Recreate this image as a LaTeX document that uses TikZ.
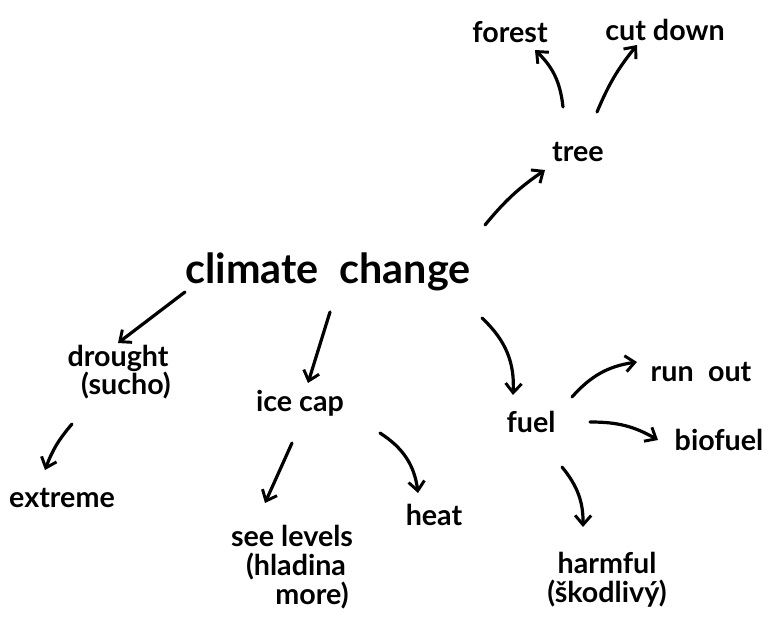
\documentclass[tikz,border=0pt]{standalone}
\usepackage{fontspec}
\setmainfont{Lato}
\usetikzlibrary{arrows.meta,calc}
\tikzset{
  lbl/.style={font=\fontsize{21.5}{21.5}\selectfont\bfseries, inner sep=0pt, align=center},
  big/.style={font=\fontsize{31}{36}\selectfont\bfseries, inner sep=0pt},
  arr/.style={line width=2.4pt, line cap=round, line join=round,
    -{Straight Barb[length=7pt,width=12pt,line width=2.2pt]}},
}
\begin{document}
\begin{tikzpicture}[x=0.75pt,y=-0.75pt]
\useasboundingbox (0,0) rectangle (771,628);
\node[big] (cc) at (328,272) {climate\enspace change};
\node[lbl] (tree) at (578,152) {tree};
\node[lbl] (forest) at (510,32) {forest};
\node[lbl] (cut) at (665,30) {cut down};
\node[lbl] (drought) at (118,372) {drought\\\hspace*{12pt}(sucho)};
\node[lbl] (extreme) at (62,498) {extreme};
\node[lbl] (icecap) at (300,403) {ice cap};
\node[lbl] (see) at (292,567) {see levels\\\hspace*{6pt}(hladina\\\hspace*{30pt}more)};
\node[lbl] (heat) at (434,515) {heat};
\node[lbl] (fuel) at (531,422) {fuel};
\node[lbl] (runout) at (701,372) {run\enspace out};
\node[lbl] (biofuel) at (719,440) {biofuel};
\node[lbl] (harm) at (607,580) {harmful\\(škodlivý)};

\draw[arr] ($(cc)+(157,-47)$) to[bend left=8] ($(tree)+(-33,18)$);
\draw[arr] ($(tree)+(-15,-45)$) to[bend right=20] ($(forest)+(25,18)$);
\draw[arr] ($(tree)+(19,-40)$) to[bend left=8] ($(cut)+(-28,15)$);
\draw[arr] ($(cc)+(-143,20)$) -- ($(drought)+(0,-29)$);
\draw[arr] ($(cc)+(2,40)$) -- ($(icecap)+(8,-20)$);
\draw[arr] ($(cc)+(154,46)$) to[bend left=25] ($(fuel)+(-18,-27)$);
\draw[arr] ($(drought)+(-46,52)$) to[bend right=10] ($(extreme)+(-17,-28)$);
\draw[arr] ($(icecap)+(-8,40)$) -- ($(see)+(-27,-64)$);
\draw[arr] ($(icecap)+(80,30)$) to[bend left=25] ($(heat)+(-16,-22)$);
\draw[arr] ($(fuel)+(41,-25)$) to[bend left=20] ($(runout)+(-64,-10)$);
\draw[arr] ($(fuel)+(59,0)$) to[bend left=15] ($(biofuel)+(-61,0)$);
\draw[arr] ($(fuel)+(31,45)$) to[bend left=20] ($(harm)+(-24,-53)$);
\end{tikzpicture}
\end{document}
